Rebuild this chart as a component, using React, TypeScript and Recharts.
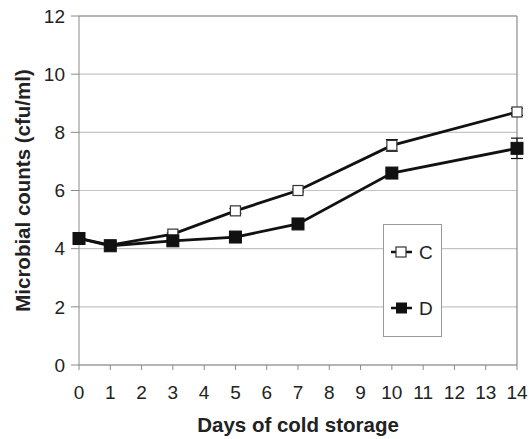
import React from "react";
import {
  LineChart,
  Line,
  XAxis,
  YAxis,
  CartesianGrid,
  ReferenceLine,
  ErrorBar,
} from "recharts";

const days = [0, 1, 3, 5, 7, 10, 14];
const countsC = [4.35, 4.12, 4.5, 5.3, 6.0, 7.55, 8.7];
const countsD = [4.35, 4.1, 4.27, 4.4, 4.85, 6.6, 7.45];
const errC = [0.05, 0.05, 0.05, 0.08, 0.05, 0.2, 0.12];
const errD = [0.05, 0.05, 0.05, 0.05, 0.05, 0.08, 0.35];
const seriesNames = ["C", "D"];
const xTicks = [0, 1, 2, 3, 4, 5, 6, 7, 8, 9, 10, 11, 12, 13, 14];
const yTicks = [0, 2, 4, 6, 8, 10, 12];

const data = days.map((d, i) => ({
  day: d,
  C: countsC[i],
  D: countsD[i],
  errC: errC[i],
  errD: errD[i],
}));

const FONT = "'Liberation Sans', Arial, sans-serif";
const AXIS = "#8a8a8a";

const OpenSquare = (props: any) => {
  const { cx, cy, index } = props;
  if (cx == null || cy == null) return null;
  return (
    <rect
      key={`c-${index}`}
      x={cx - 5}
      y={cy - 5}
      width={10}
      height={10}
      fill="#fff"
      stroke="#333"
      strokeWidth={1.2}
    />
  );
};

const FilledSquare = (props: any) => {
  const { cx, cy, index } = props;
  if (cx == null || cy == null) return null;
  return (
    <rect
      key={`d-${index}`}
      x={cx - 6}
      y={cy - 6}
      width={12}
      height={12}
      fill="#111"
      stroke="#111"
    />
  );
};

// legend box drawn over the plot, like the original's floating legend
const LegendBox = () => (
  <svg
    width={59}
    height={113}
    style={{ position: "absolute", left: 383, top: 224 }}
  >
    <rect x={0.5} y={0.5} width={58} height={112} fill="#fff" stroke="#999" />
    <line x1={8} y1={28} x2={29} y2={28} stroke="#111" strokeWidth={2.5} />
    <rect x={13} y={23} width={10} height={10} fill="#fff" stroke="#333" strokeWidth={1.2} />
    <text x={36} y={35} fontSize={19} fontFamily={FONT} fill="#222">{seriesNames[0]}</text>
    <line x1={8} y1={84} x2={29} y2={84} stroke="#111" strokeWidth={2.5} />
    <rect x={13} y={78.5} width={11} height={11} fill="#111" />
    <text x={36} y={91} fontSize={19} fontFamily={FONT} fill="#222">{seriesNames[1]}</text>
  </svg>
);

export default function App() {
  return (
    <div style={{ position: "absolute", left: 0, top: 0, width: 529, height: 439, background: "#fff" }}>
      <LineChart
        width={529}
        height={439}
        data={data}
        margin={{ top: 16, right: 12, left: 0, bottom: 0 }}
      >
        <CartesianGrid horizontal vertical={false} stroke="#c4c4c4" strokeWidth={1.2} />
        <XAxis
          dataKey="day"
          type="number"
          domain={[0, 14]}
          ticks={xTicks}
          interval={0}
          height={74}
          stroke={AXIS}
          tickSize={5}
          tickMargin={16}
          tick={{ fill: "#222", fontSize: 19, fontFamily: FONT }}
          label={({ viewBox }: any) => (
            <text
              x={viewBox.x + viewBox.width / 2}
              y={viewBox.y + 67}
              textAnchor="middle"
              fontSize={20.5}
              fontWeight="bold"
              fontFamily={FONT}
              fill="#222"
            >
              Days of cold storage
            </text>
          )}
        />
        <YAxis
          type="number"
          domain={[0, 12]}
          ticks={yTicks}
          width={79}
          stroke={AXIS}
          tickSize={8}
          tickMargin={6}
          tick={{ fill: "#222", fontSize: 19, fontFamily: FONT }}
          label={({ viewBox }: any) => {
            const cy = viewBox.y + viewBox.height / 2;
            return (
              <text
                x={22}
                y={cy}
                transform={`rotate(-90, 22, ${cy})`}
                textAnchor="middle"
                dominantBaseline="central"
                fontSize={20.5}
                fontWeight="bold"
                fontFamily={FONT}
                fill="#222"
              >
                Microbial counts (cfu/ml)
              </text>
            );
          }}
        />
        <ReferenceLine y={12} stroke={AXIS} strokeWidth={1.2} />
        <ReferenceLine x={14} stroke={AXIS} strokeWidth={1.2} />
        <Line
          dataKey="C"
          name={seriesNames[0]}
          stroke="#111"
          strokeWidth={2.8}
          dot={OpenSquare}
          activeDot={false}
          isAnimationActive={false}
        >
          <ErrorBar dataKey="errC" width={6} stroke="#111" strokeWidth={1.2} direction="y" />
        </Line>
        <Line
          dataKey="D"
          name={seriesNames[1]}
          stroke="#111"
          strokeWidth={2.8}
          dot={FilledSquare}
          activeDot={false}
          isAnimationActive={false}
        >
          <ErrorBar dataKey="errD" width={6} stroke="#111" strokeWidth={1.2} direction="y" />
        </Line>
      </LineChart>
      <LegendBox />
    </div>
  );
}
